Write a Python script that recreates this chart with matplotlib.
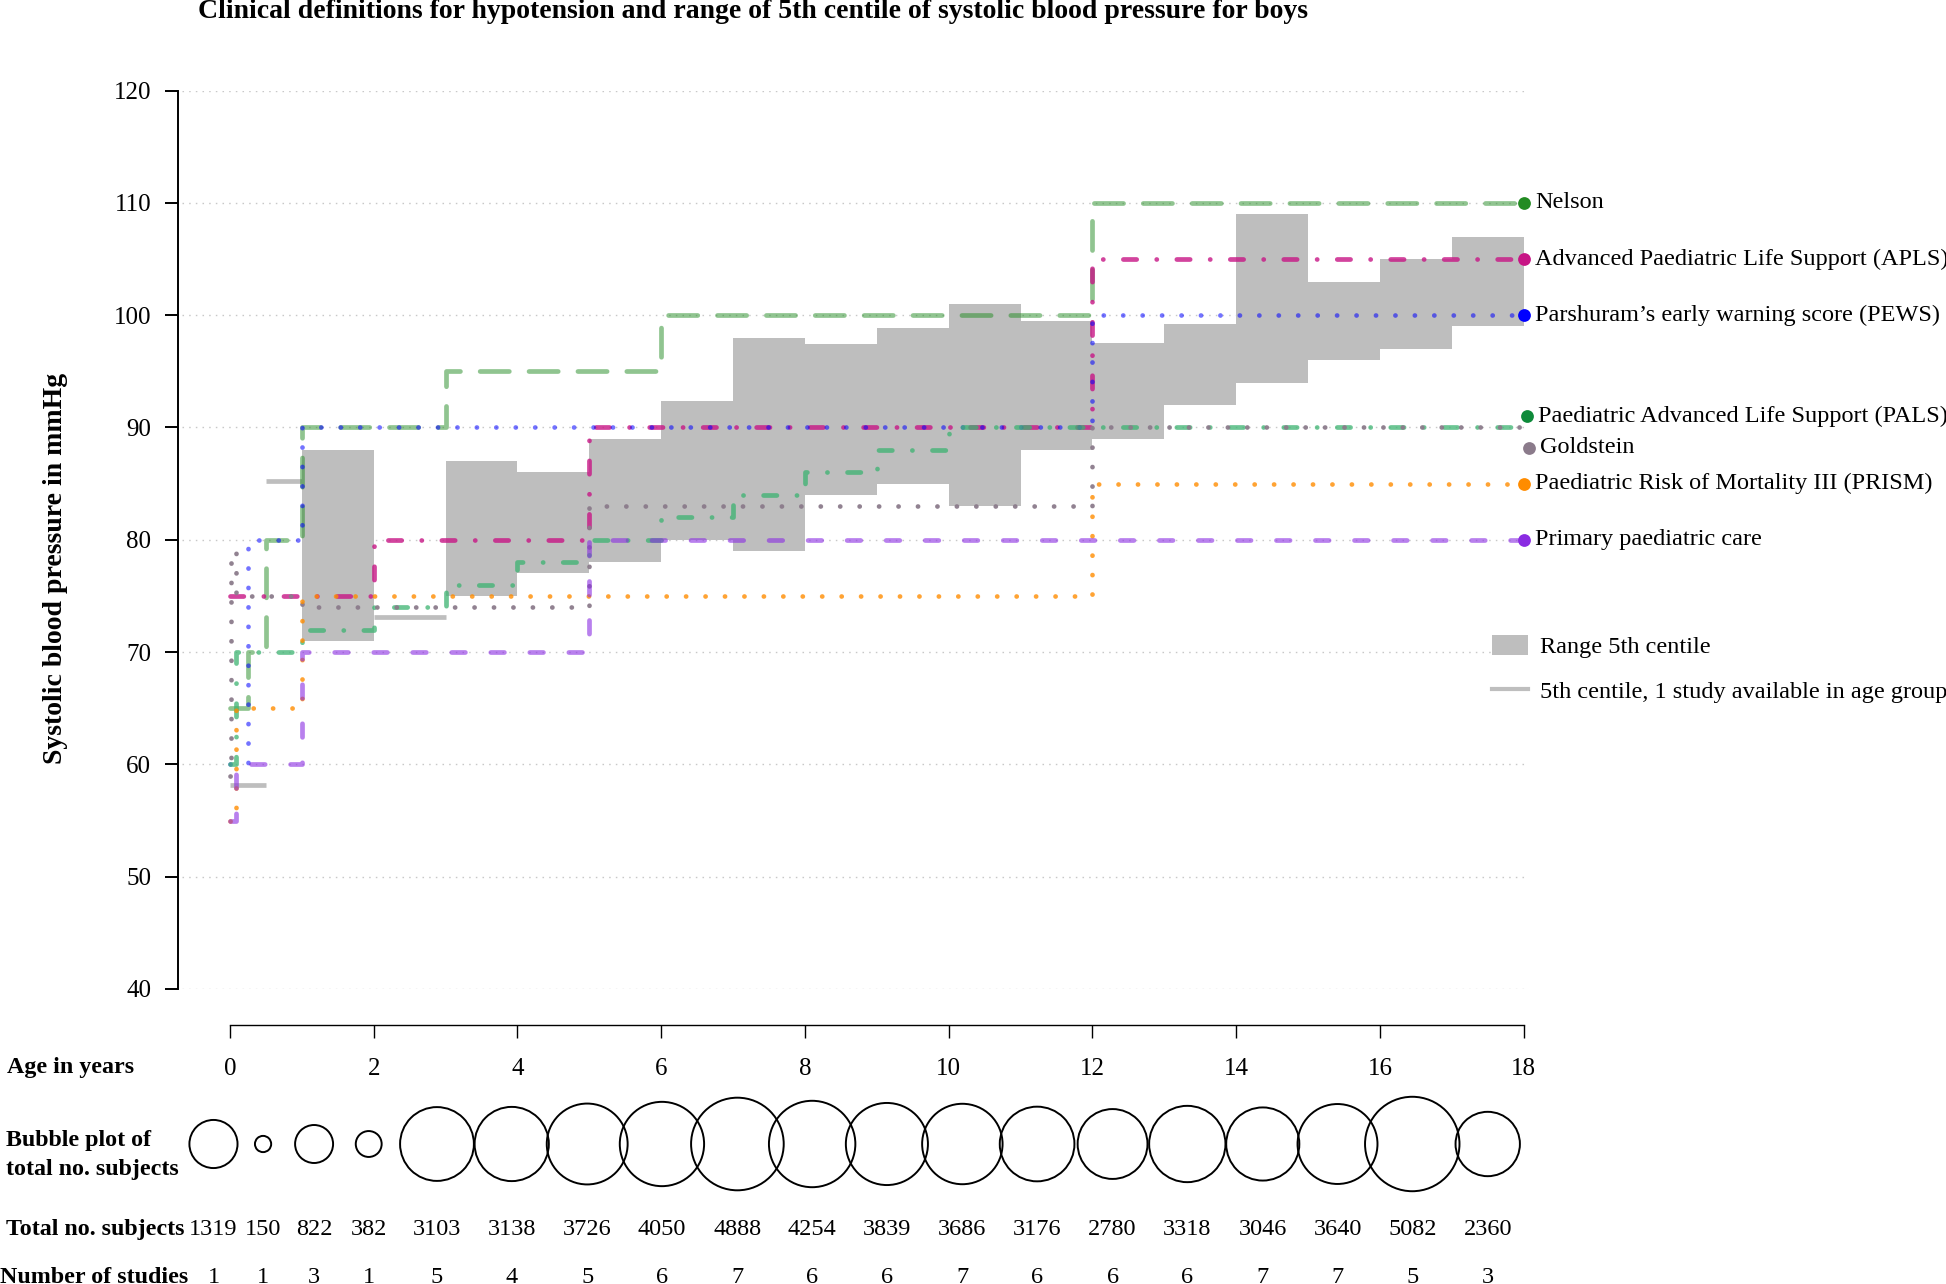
import matplotlib
matplotlib.use("Agg")
import matplotlib.pyplot as plt
import matplotlib.transforms as mtransforms
from matplotlib.patches import Patch
from matplotlib.lines import Line2D
import numpy as np

plt.rcParams['font.family'] = ['Liberation Serif', 'DejaVu Serif']
plt.rcParams['lines.scale_dashes'] = False

# ---------------- data ----------------
title = "Clinical definitions for hypotension and range of 5th centile of systolic blood pressure for boys"

# range of 5th centile (age groups with >1 study)
range_start = [1, 3, 4, 5, 6, 7, 8, 9, 10, 11, 12, 13, 14, 15, 16, 17]
range_low = [71, 75, 77, 78, 80, 79, 84, 85, 83, 88, 89, 92, 94, 96, 97, 99]
range_high = [88, 87, 86, 89, 92.4, 98, 97.4, 98.9, 101, 99.5, 97.5, 99.2, 109, 103, 105, 107]

# age groups with a single study
single_start = [0, 0.5, 2]
single_end = [0.5, 1, 3]
single_value = [58.2, 85.2, 73.1]

# clinical definitions (step functions: age edges, SBP values)
nelson_age = [0, 0.25, 0.5, 1, 3, 6, 12, 18]
nelson_sbp = [65, 70, 80, 90, 95, 100, 110]
apls_age = [0, 2, 5, 12, 18]
apls_sbp = [75, 80, 90, 105]
pews_age = [0, 0.25, 1, 12, 18]
pews_sbp = [60, 80, 90, 100]
pals_age = [0, 1 / 12, 1, 2, 3, 4, 5, 6, 7, 8, 9, 10, 18]
pals_sbp = [60, 70, 72, 74, 76, 78, 80, 82, 84, 86, 88, 90]
goldstein_age = [0, 1 / 52, 1 / 12, 1, 5, 12, 18]
goldstein_sbp = [59, 79, 75, 74, 83, 90]
prism_age = [0, 1 / 12, 1, 12, 18]
prism_sbp = [55, 65, 75, 85]
primary_age = [0, 1 / 12, 1, 5, 18]
primary_sbp = [55, 60, 70, 80]

definition_names = ["Nelson", "Advanced Paediatric Life Support (APLS)",
                     "Parshuram\u2019s early warning score (PEWS)",
                     "Paediatric Advanced Life Support (PALS)", "Goldstein",
                     "Paediatric Risk of Mortality III (PRISM)", "Primary paediatric care"]
label_age = [18, 18, 18, 18.05, 18.07, 18, 18]
label_sbp = [110, 105, 100, 91, 88.2, 85, 80]

# bottom table
group_position = [-0.23, 0.46, 1.17, 1.93, 2.88, 3.92, 4.97, 6.01, 7.06, 8.10,
                  9.14, 10.19, 11.23, 12.28, 13.32, 14.37, 15.41, 16.45, 17.50]
group_subjects = [1319, 150, 822, 382, 3103, 3138, 3726, 4050, 4888, 4254,
                  3839, 3686, 3176, 2780, 3318, 3046, 3640, 5082, 2360]
group_studies = [1, 1, 3, 1, 5, 4, 5, 6, 7, 6, 6, 7, 6, 6, 6, 7, 7, 5, 3]

x_ticks = list(range(0, 19, 2))
y_ticks = list(range(40, 121, 10))

# ---------------- figure ----------------
W, H = 1946, 1284
fig = plt.figure(figsize=(W / 100, H / 100), dpi=100)


def fx(px):
    return px / W


def fy(py):
    return 1 - py / H


x_left, x_right = -0.72, 18.3
px_per_year = 71.87
ax_l = 230 + x_left * px_per_year
ax_r = 230 + x_right * px_per_year
ax = fig.add_axes([fx(ax_l), fy(989), fx(ax_r - ax_l), (989 - 90.6) / H])
ax.set_xlim(x_left, x_right)
ax.set_ylim(40, 120)

for s in ['top', 'right']:
    ax.spines[s].set_visible(False)
ax.spines['left'].set_bounds(40, 120)
ax.spines['left'].set_linewidth(1.4)
ax.spines['bottom'].set_position(('outward', 26))
ax.spines['bottom'].set_bounds(0, 18)
ax.spines['bottom'].set_linewidth(1.0)
ax.set_xticks(x_ticks)
ax.set_yticks(y_ticks)
ax.tick_params(axis='y', length=9.5, width=1.4, labelsize=18, pad=10)
ax.tick_params(axis='x', length=9, width=1.0, labelsize=18, pad=14.5)

# gridlines
ax.hlines(y_ticks, x_left + 0.05, 18, colors='#C8C8C8', linestyles=[(0, (1.1, 3.7))],
          linewidth=1.0, zorder=0)

# 5th centile range
ax.bar(range_start, np.subtract(range_high, range_low), bottom=range_low, width=1,
       align='edge', color='#BEBEBE', linewidth=0, zorder=1)
ax.hlines(single_value, single_start, single_end, colors='#BEBEBE', linewidth=3.4, zorder=1)

dash_dot = (0, (9.6, 14.4, 0.1, 14.4))
dotted = (0, (0.1, 13.9))
definitions = [
    (nelson_age, nelson_sbp, '#228B22', 0.5, (0, (21, 14.2)), '#228B22'),
    (apls_age, apls_sbp, '#C71585', 0.8, dash_dot, '#C71585'),
    (pews_age, pews_sbp, '#0000FF', 0.55, dotted, '#0000FF'),
    (pals_age, pals_sbp, '#3CB371', 0.75, dash_dot, '#0E8A3A'),
    (goldstein_age, goldstein_sbp, '#8B7B8B', 0.95, dotted, '#8B7B8B'),
    (prism_age, prism_sbp, '#FF8C00', 0.8, dotted, '#FF8C00'),
    (primary_age, primary_sbp, '#8A2BE2', 0.6, (0, (9.8, 18.3)), '#8A2BE2'),
]
for i, (ages, sbps, col, a, ls, dotcol) in enumerate(definitions):
    ax.plot(ages, list(sbps) + [sbps[-1]], drawstyle='steps-post', color=col, alpha=a,
            linewidth=3.4, linestyle=ls, dash_capstyle='round', solid_capstyle='round',
            zorder=3 + i * 0.1)
    ax.plot([label_age[i]], [label_sbp[i]], 'o', color=dotcol, markersize=9.2,
            markeredgewidth=0, clip_on=False, zorder=5)
    ax.text(label_age[i] + 0.155, label_sbp[i], definition_names[i], fontsize=17.5,
            va='center', ha='left', clip_on=False)

# legend for centile marks
handles = [Patch(facecolor='#BEBEBE', edgecolor='none', label='Range 5th centile'),
           Line2D([0], [0], color='#BEBEBE', linewidth=3, label='5th centile, 1 study available in age group')]
ax.legend(handles=handles, loc='upper left', bbox_to_anchor=(fx(1491.7), fy(634.5)),
          bbox_transform=fig.transFigure, frameon=False, fontsize=17.5, borderpad=0,
          borderaxespad=0, handlelength=1.49, handleheight=0.91, handletextpad=0.48,
          labelspacing=0.88)

# ---------------- bottom table ----------------
ax_b = fig.add_axes([fx(ax_l), fy(1199), fx(ax_r - ax_l), 110 / H])
ax_b.set_xlim(x_left, x_right)
ax_b.set_ylim(0, 1)
ax_b.axis('off')
ax_b.scatter(group_position, [0.5] * len(group_position), s=0.91 * np.array(group_subjects),
             facecolors='none', edgecolors='black', linewidths=1.4, clip_on=False)

trans = mtransforms.blended_transform_factory(ax.transData, fig.transFigure)
for xp, n, st in zip(group_position, group_subjects, group_studies):
    ax.text(xp, fy(1235), str(n), transform=trans, fontsize=17.5, ha='center', va='baseline')
    ax.text(xp, fy(1283), str(st), transform=trans, fontsize=17.5, ha='center', va='baseline')

bold = dict(fontweight='bold', fontsize=17.3, ha='left', va='baseline')
fig.text(fx(7), fy(1073.5), "Age in years", **bold)
fig.text(fx(6), fy(1146.3), "Bubble plot of", **bold)
fig.text(fx(6), fy(1175), "total no. subjects", **bold)
fig.text(fx(6), fy(1235), "Total no. subjects", **bold)
fig.text(fx(0.5), fy(1283), "Number of studies", **bold)

fig.text(fx(198), fy(18.5), title, fontweight='bold', fontsize=20, ha='left', va='baseline')
fig.text(fx(56), fy(568), "Systolic blood pressure in mmHg", fontweight='bold', fontsize=20,
         rotation=90, ha='center', va='center')

fig.savefig("out.png", dpi=100)
